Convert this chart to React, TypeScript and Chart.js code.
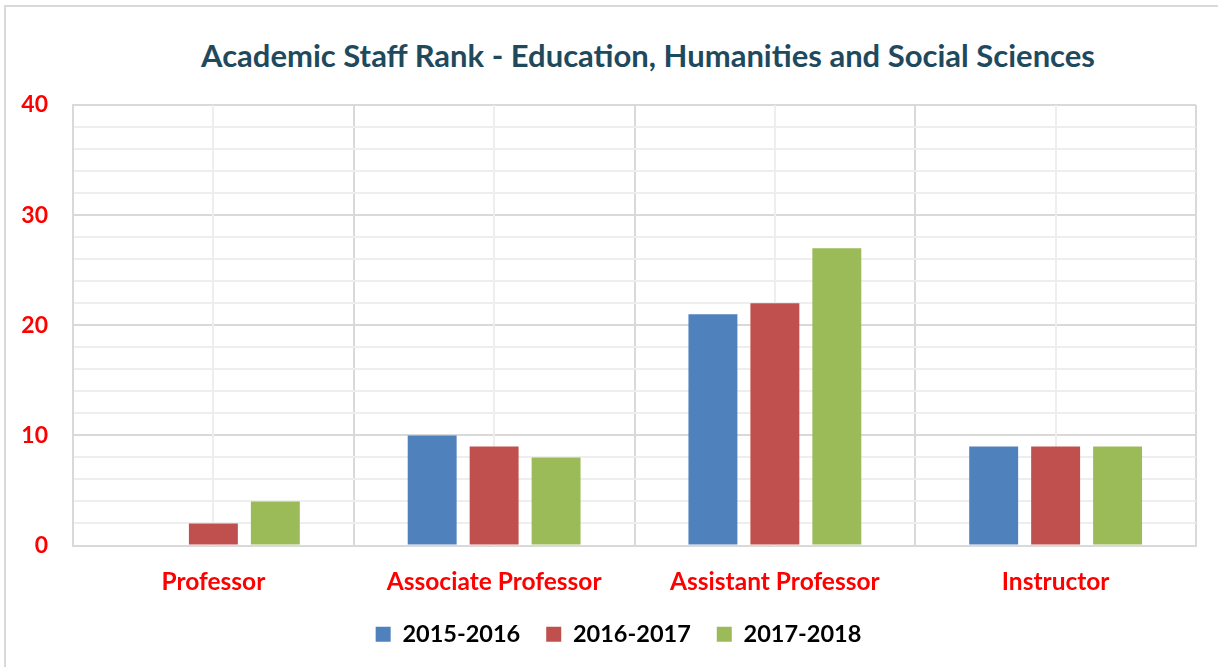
import React, { useEffect, useRef } from "react";
import { Chart, registerables } from "chart.js";

Chart.register(...registerables);

const TITLE = "Academic Staff Rank - Education, Humanities and Social Sciences";
const CATEGORIES = ["Professor", "Associate Professor", "Assistant Professor", "Instructor"];
const SERIES_LABELS = ["2015-2016", "2016-2017", "2017-2018"];
const SERIES_COLORS = ["#4F81BD", "#C0504D", "#9BBB59"];
const VALUES_2015_2016 = [0, 10, 21, 9];
const VALUES_2016_2017 = [2, 9, 22, 9];
const VALUES_2017_2018 = [4, 8, 27, 9];
const Y_MIN = 0;
const Y_MAX = 40;
const Y_MINOR_STEP = 2;
const Y_MAJOR_STEP = 10;

const FONT = "Lato, 'Open Sans', sans-serif";
const MAJOR_GRID = "#d9d9d9";
const MINOR_GRID = "#eeeeee";

const centerLinesPlugin = {
  id: "centerLines",
  beforeDatasetsDraw(chart: any) {
    const x = chart.scales.x;
    const area = chart.chartArea;
    const ctx = chart.ctx;
    ctx.save();
    ctx.strokeStyle = MINOR_GRID;
    ctx.lineWidth = 2;
    for (let i = 0; i < CATEGORIES.length; i++) {
      const px = Math.round(x.getPixelForTick(i));
      ctx.beginPath();
      ctx.moveTo(px, area.top);
      ctx.lineTo(px, area.bottom);
      ctx.stroke();
    }
    ctx.restore();
  },
};

// Centre the legend between the plot area's left edge and the canvas right, as in the original
const legendShiftPlugin = {
  id: "legendShift",
  afterLayout(chart: any) {
    if (chart.legend) chart.legend.left += 20;
  },
};

export default function App() {
  const ref = useRef<HTMLCanvasElement | null>(null);

  useEffect(() => {
    if (!ref.current) return;
    const seriesValues = [VALUES_2015_2016, VALUES_2016_2017, VALUES_2017_2018];
    const chart = new Chart(ref.current, {
      type: "bar",
      data: {
        labels: CATEGORIES,
        datasets: SERIES_LABELS.map((label, i) => ({
          label,
          data: seriesValues[i],
          backgroundColor: SERIES_COLORS[i],
          borderWidth: 0,
          categoryPercentage: 0.662,
          barPercentage: 0.79,
        })),
      },
      options: {
        responsive: false,
        animation: false,
        layout: { padding: { top: 105, left: 21, right: 22, bottom: 11 } },
        plugins: {
          title: { display: false },
          tooltip: { enabled: false },
          legend: {
            position: "bottom",
            labels: {
              boxWidth: 15,
              boxHeight: 15,
              padding: 26,
              color: "#000000",
              font: { family: FONT, size: 23.5, weight: "bold" },
            },
          },
        },
        scales: {
          x: {
            afterFit: (s: any) => {
              s.height = 51;
            },
            grid: {
              offset: true,
              color: MAJOR_GRID,
              lineWidth: 2,
              drawTicks: false,
            },
            border: { color: MAJOR_GRID, width: 2 },
            ticks: {
              color: "#FF0000",
              padding: 22,
              font: { family: FONT, size: 24.5, weight: "bold" },
            },
          },
          y: {
            min: Y_MIN,
            max: Y_MAX,
            afterFit: (s: any) => {
              s.width = 52;
            },
            grid: {
              color: (c: any) => (c.tick && c.tick.value % Y_MAJOR_STEP === 0 ? MAJOR_GRID : MINOR_GRID),
              lineWidth: 2,
              drawTicks: false,
            },
            border: { color: MAJOR_GRID, width: 2 },
            ticks: {
              stepSize: Y_MINOR_STEP,
              autoSkip: false,
              color: "#FF0000",
              padding: 25,
              font: { family: FONT, size: 23, weight: "bold" },
              callback: (v: any) => (Number(v) % Y_MAJOR_STEP === 0 ? String(v) : ""),
            },
          },
        },
      },
      plugins: [centerLinesPlugin, legendShiftPlugin],
    });
    return () => chart.destroy();
  }, []);

  return (
    <div
      style={{
        position: "fixed",
        left: 0,
        top: 0,
        width: 1218,
        height: 667,
        overflow: "hidden",
        background: "#ffffff",
      }}
    >
      <div
        style={{
          position: "absolute",
          left: 4,
          top: 5,
          width: 1300,
          height: 700,
          borderLeft: "2px solid #d9d9d9",
          borderTop: "2px solid #d9d9d9",
        }}
      />
      <div
        style={{
          position: "absolute",
          left: 78,
          width: 1140,
          top: 35,
          textAlign: "center",
          fontFamily: FONT,
          fontWeight: 700,
          fontSize: 31,
          color: "#1F4A5E",
          whiteSpace: "nowrap",
          lineHeight: "40px",
        }}
      >
        {TITLE}
      </div>
      <canvas ref={ref} width={1218} height={667} style={{ position: "absolute", left: 0, top: 0 }} />
    </div>
  );
}
